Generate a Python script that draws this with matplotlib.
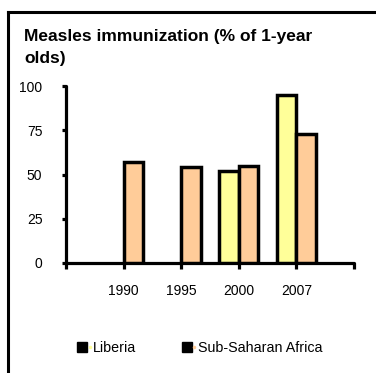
import matplotlib
matplotlib.use("Agg")
import matplotlib.pyplot as plt
from matplotlib.lines import Line2D
from matplotlib.legend_handler import HandlerTuple

plt.rcParams['font.family'] = ['Liberation Sans', 'DejaVu Sans']

years = ["1990", "1995", "2000", "2007"]
liberia = [None, None, 52, 95]
ssa = [57, 54, 55, 73]
yticks = [0, 25, 50, 75, 100]
col_lib = "#FFFF99"
col_ssa = "#FFCC99"

W, H = 376, 373
fig = plt.figure(figsize=(W / 100, H / 100), dpi=100)
ax = fig.add_axes([66 / W, (H - 263) / H, (354 - 66) / W, (263 - 86) / H])

bw = 0.34
pos = [1, 2, 3, 4]
for i, p in enumerate(pos):
    if liberia[i] is not None:
        ax.bar(p - bw / 2, liberia[i], width=bw, color=col_lib, edgecolor="black", linewidth=2.5, zorder=3)
    if ssa[i] is not None:
        ax.bar(p + bw / 2, ssa[i], width=bw, color=col_ssa, edgecolor="black", linewidth=2.5, zorder=3)

ax.set_xlim(0, 5)
ax.set_ylim(0, 100)
for s in ["top", "right"]:
    ax.spines[s].set_visible(False)
for s in ["left", "bottom"]:
    ax.spines[s].set_linewidth(2.3)
    ax.spines[s].set_capstyle("round")
ax.set_yticks(yticks)
ax.set_yticklabels([str(v) for v in yticks], fontsize=10)
ax.set_xticks(range(6))
ax.set_xticklabels([])
ax.tick_params(axis="y", direction="out", length=3, width=2.3, pad=14)
ax.tick_params(axis="x", direction="out", length=4, width=2.3)
for t in ax.yaxis.get_ticklines() + ax.xaxis.get_ticklines():
    t.set_solid_capstyle("round")
for p, y in zip(pos, years):
    ax.text(p, -(291 - 263) / (263 - 86) * 100, y, ha="center", va="center", fontsize=10, clip_on=False)

fig.text(24 / W, 1 - 37 / H, "Measles immunization (% of 1-year", fontsize=12.5, fontweight="bold", ha="left", va="center")
fig.text(24 / W, 1 - 58 / H, "olds)", fontsize=12.5, fontweight="bold", ha="left", va="center")

# outer frame
fig.add_artist(Line2D([7.5 / W, 7.5 / W], [0, 1 - 12 / H], color="black", linewidth=2.2, transform=fig.transFigure))
fig.add_artist(Line2D([7.5 / W, 1], [1 - 12 / H, 1 - 12 / H], color="black", linewidth=2.2, transform=fig.transFigure))

h_lib = (Line2D([], [], marker="s", color="black", markersize=7, linestyle="None"),
         Line2D([], [], marker="o", color=col_lib, markersize=1.5, linestyle="None"))
h_ssa = (Line2D([], [], marker="s", color="black", markersize=7, linestyle="None"),
         Line2D([], [], marker="o", color=col_ssa, markersize=1.5, linestyle="None"))
fig.legend([h_lib, h_ssa], ["Liberia", "Sub-Saharan Africa"], handler_map={tuple: HandlerTuple(ndivide=None)},
           loc="center", bbox_to_anchor=(202 / W, 1 - 348 / H), ncol=2, frameon=False, fontsize=10.3,
           handlelength=0.6, handletextpad=0.2, columnspacing=3.5)

fig.savefig("out.png", dpi=100)
